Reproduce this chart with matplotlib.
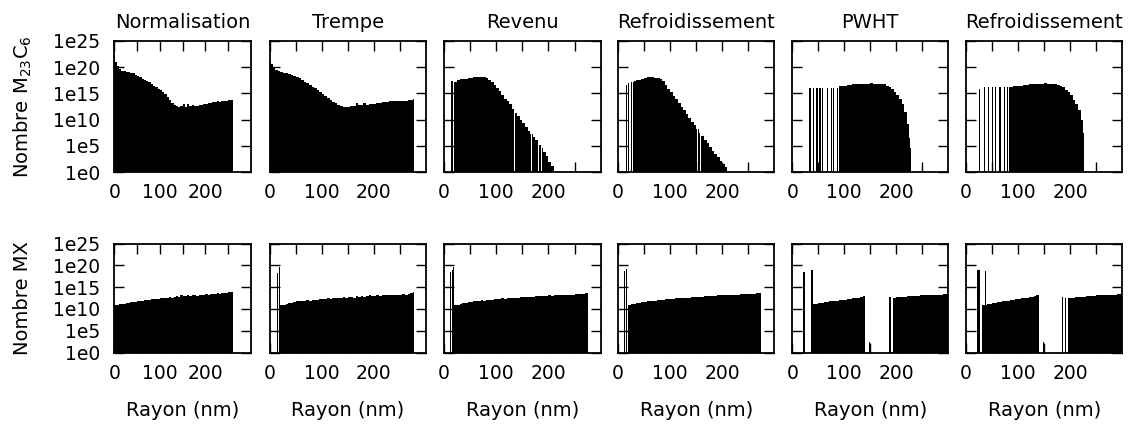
import numpy as np
import matplotlib
matplotlib.use('Agg')
import matplotlib.pyplot as plt
from matplotlib.ticker import FixedLocator, NullLocator

# -- data : log10(nombre) per 5 nm class, starting at radius r0 (nm)
#    spikes = thin 2 nm classes (radius, log10), gaps = empty 2 nm classes
titles = ['Normalisation', 'Trempe', 'Revenu', 'Refroidissement', 'PWHT', 'Refroidissement']
rayon_max = 300

# M23C6
m23_norm_r0 = 0
m23_norm = [21.0, 20.3, 19.6, 19.3, 19.2, 19.1, 19.0, 18.9, 18.8, 18.5,
            18.3, 18.1, 17.8, 17.6, 17.4, 17.1, 16.8, 16.5, 16.2, 15.9,
            15.6, 15.2, 14.8, 14.3, 13.8, 13.2, 12.8, 12.6, 12.5, 12.6,
            12.9, 12.5, 13.0, 12.6, 12.7, 12.6, 12.6, 12.7, 12.8, 13.0,
            13.0, 13.2, 13.1, 13.4, 13.3, 13.5, 13.3, 13.6, 13.5, 13.6,
            13.7, 13.8]
m23_norm_spikes = [(0, 22.6)]
m23_norm_gaps = []

m23_trempe_r0 = 0
m23_trempe = [20.6, 19.9, 19.5, 19.2, 19.0, 18.9, 18.8, 18.7, 18.6, 18.4,
              18.2, 17.9, 17.6, 17.2, 16.9, 16.6, 16.3, 16.0, 15.6, 15.2,
              14.9, 14.5, 14.1, 13.8, 13.4, 13.1, 12.7, 12.6, 12.5, 12.5,
              12.4, 12.6, 12.6, 13.2, 12.7, 12.8, 13.1, 12.8, 13.0, 12.9,
              13.0, 13.1, 13.2, 13.3, 13.4, 13.4, 13.5, 13.5, 13.5, 13.6,
              13.6, 13.6, 13.6, 13.7, 13.8]
m23_trempe_spikes = [(0, 21.0), (275, 14.0)]
m23_trempe_gaps = []

m23_revenu_r0 = 20
m23_revenu = [17.2, 17.5, 17.7, 17.7, 17.8, 17.9, 18.0, 18.1, 18.1, 18.2,
              18.2, 18.1, 17.9, 17.5, 17.1, 16.6, 16.0, 15.4, 14.7, 14.0,
              13.5, 12.9, 12.0, 11.3, 10.6, 9.9, 9.3, 8.6, 7.9, 7.3,
              6.7, 6.1, 5.1, 4.5, 3.9, 3.0, 1.9, 1.1]
m23_revenu_spikes = [(13, 17.4), (15, 17.4)]
m23_revenu_gaps = [134, 166, 180, 185]

m23_refroid_r0 = 20
m23_refroid = [17.0, 17.2, 17.4, 17.5, 17.6, 17.8, 18.0, 18.1, 18.1, 18.1,
               18.0, 17.9, 17.7, 17.4, 16.6, 15.9, 15.3, 14.5, 13.9, 13.2,
               12.5, 11.9, 11.1, 10.3, 9.6, 8.9, 8.3, 7.5, 6.8, 6.1,
               5.5, 4.8, 4.1, 3.4, 2.8, 2.1, 1.5, 1.0]
m23_refroid_spikes = [(16, 16.6)]
m23_refroid_gaps = [22, 27, 152, 157]

m23_pwht_r0 = 90
m23_pwht = [16.4, 16.5, 16.5, 16.6, 16.6, 16.7, 16.7, 16.7, 16.8, 16.8,
            16.8, 16.8, 16.9, 16.8, 16.8, 16.8, 16.8, 16.7, 16.4, 16.2,
            15.9, 15.3, 14.7, 13.9, 12.9, 11.5, 9.2]
m23_pwht_spikes = [(33, 16.0), (40, 16.0), (45, 16.0), (48, 16.0), (51, 16.0),
                   (54, 16.0), (57, 16.0), (66, 16.0), (74, 16.0), (79, 16.0),
                   (85, 16.0), (225, 6.5), (227, 4.5)]
m23_pwht_gaps = []

m23_refroid2_r0 = 85
m23_refroid2 = [16.3, 16.4, 16.4, 16.5, 16.5, 16.6, 16.6, 16.7, 16.7, 16.8,
                16.8, 16.8, 16.8, 16.9, 16.8, 16.8, 16.8, 16.7, 16.6, 16.4,
                16.2, 15.7, 15.2, 14.6, 13.8, 12.9, 11.8, 10.0]
m23_refroid2_spikes = [(25, 15.8), (35, 16.2), (43, 16.2), (49, 16.2), (56, 16.2),
                       (63, 16.2), (66, 16.2), (72, 16.2), (78, 16.2), (82, 16.2),
                       (225, 7.5)]
m23_refroid2_gaps = []

# MX
mx_norm_r0 = 0
mx_norm = [11.0, 11.0, 11.1, 11.1, 11.2, 11.4, 11.4, 11.5, 11.6, 11.6,
           11.7, 11.8, 11.8, 12.0, 12.0, 12.1, 12.2, 12.2, 12.3, 12.3,
           12.4, 12.6, 12.5, 12.6, 12.7, 12.6, 12.8, 12.9, 12.8, 13.2,
           12.9, 13.0, 13.3, 13.0, 13.1, 13.2, 13.0, 13.3, 13.2, 13.3,
           13.4, 13.3, 13.5, 13.4, 13.5, 13.6, 13.5, 13.6, 13.7, 13.6,
           13.8, 13.9]
mx_norm_spikes = []
mx_norm_gaps = []

mx_trempe_r0 = 20
mx_trempe = [10.9, 11.0, 11.1, 11.3, 11.4, 11.5, 11.7, 11.8, 11.9, 11.8,
             12.0, 11.9, 12.0, 12.1, 12.0, 12.2, 12.3, 12.2, 12.4, 12.3,
             12.4, 12.6, 12.5, 12.5, 12.7, 12.6, 12.7, 12.8, 12.6, 12.9,
             12.7, 13.0, 12.8, 12.9, 13.1, 12.9, 13.0, 13.1, 13.0, 13.1,
             13.2, 13.1, 13.2, 13.3, 13.2, 13.3, 13.3, 13.4, 13.3, 13.4, 13.6]
mx_trempe_spikes = [(13, 18.2), (18, 19.5), (275, 13.8)]
mx_trempe_gaps = []

mx_revenu_r0 = 20
mx_revenu = [10.9, 11.0, 11.2, 11.3, 11.4, 11.5, 11.6, 11.8, 11.8, 11.9,
             12.0, 11.9, 12.0, 12.1, 12.1, 12.2, 12.2, 12.3, 12.4, 12.3,
             12.4, 12.5, 12.5, 12.6, 12.6, 12.7, 12.7, 12.8, 12.7, 12.8,
             12.8, 12.9, 12.9, 13.0, 12.9, 13.0, 13.1, 13.0, 13.1, 13.1,
             13.2, 13.2, 13.2, 13.3, 13.3, 13.3, 13.4, 13.4, 13.4, 13.5, 13.6]
mx_revenu_spikes = [(11, 18.5), (15, 19.0), (18, 19.6)]
mx_revenu_gaps = []

mx_refroid_r0 = 20
mx_refroid = [11.0, 11.1, 11.2, 11.3, 11.4, 11.5, 11.6, 11.7, 11.8, 11.9,
              11.9, 12.0, 12.0, 12.1, 12.2, 12.2, 12.3, 12.3, 12.4, 12.4,
              12.5, 12.5, 12.6, 12.6, 12.7, 12.7, 12.8, 12.8, 12.8, 12.9,
              12.9, 13.0, 13.0, 13.0, 13.1, 13.1, 13.1, 13.2, 13.2, 13.2,
              13.3, 13.3, 13.3, 13.4, 13.4, 13.4, 13.5, 13.5, 13.5, 13.6, 13.6]
mx_refroid_spikes = [(12, 18.8), (16, 19.2)]
mx_refroid_gaps = []

mx_pwht_r0 = 40
mx_pwht = [11.1, 11.2, 11.3, 11.4, 11.5, 11.6, 11.7, 11.8, 11.9, 11.9,
           12.0, 12.1, 12.1, 12.2, 12.3, 12.4, 12.5, 12.6, 12.7, 12.9,
           0, 0, 0, 0, 0, 0, 0, 0, 0, 0, 0,
           12.6, 12.7, 12.7, 12.8, 12.8, 12.9, 12.9, 13.0, 13.0, 13.0,
           13.1, 13.1, 13.1, 13.2, 13.2, 13.2, 13.3, 13.3, 13.3, 13.4, 13.4]
mx_pwht_spikes = [(21, 18.5), (23, 18.5), (36, 18.9), (38, 18.9),
                  (148, 2.5), (185, 12.7), (187, 12.7), (193, 12.5)]
mx_pwht_gaps = []

mx_refroid2_r0 = 30
mx_refroid2 = [10.9, 11.0, 11.1, 11.2, 11.3, 11.4, 11.5, 11.6, 11.7, 11.8,
               11.9, 12.0, 12.1, 12.2, 12.3, 12.4, 12.5, 12.6, 12.7, 12.8,
               13.0, 13.2,
               0, 0, 0, 0, 0, 0, 0, 0, 0, 0, 0,
               12.5, 12.6, 12.6, 12.7, 12.7, 12.8, 12.8, 12.9, 12.9, 13.0,
               13.0, 13.1, 13.1, 13.1, 13.2, 13.2, 13.2, 13.3, 13.3, 13.4, 13.4]
mx_refroid2_spikes = [(22, 18.9), (24, 18.9), (36, 18.8),
                      (148, 2.5), (184, 12.7), (190, 12.5)]
mx_refroid2_gaps = []

rows = [
    [(m23_norm_r0, m23_norm, m23_norm_spikes, m23_norm_gaps),
     (m23_trempe_r0, m23_trempe, m23_trempe_spikes, m23_trempe_gaps),
     (m23_revenu_r0, m23_revenu, m23_revenu_spikes, m23_revenu_gaps),
     (m23_refroid_r0, m23_refroid, m23_refroid_spikes, m23_refroid_gaps),
     (m23_pwht_r0, m23_pwht, m23_pwht_spikes, m23_pwht_gaps),
     (m23_refroid2_r0, m23_refroid2, m23_refroid2_spikes, m23_refroid2_gaps)],
    [(mx_norm_r0, mx_norm, mx_norm_spikes, mx_norm_gaps),
     (mx_trempe_r0, mx_trempe, mx_trempe_spikes, mx_trempe_gaps),
     (mx_revenu_r0, mx_revenu, mx_revenu_spikes, mx_revenu_gaps),
     (mx_refroid_r0, mx_refroid, mx_refroid_spikes, mx_refroid_gaps),
     (mx_pwht_r0, mx_pwht, mx_pwht_spikes, mx_pwht_gaps),
     (mx_refroid2_r0, mx_refroid2, mx_refroid2_spikes, mx_refroid2_gaps)],
]
ylabels = ['Nombre M$_{23}$C$_6$', 'Nombre MX']


def histo(r0, logs, spikes, gaps):
    # 1 nm classes, empty class = 1e0 (baseline)
    y = np.zeros(rayon_max)
    for k, v in enumerate(logs):
        y[r0 + 5 * k: r0 + 5 * k + 5] = v
    for r, v in spikes:
        y[r:r + 2] = v
    for r in gaps:
        y[r:r + 2] = 0
    return 10.0 ** y


plt.rcParams['font.family'] = 'DejaVu Sans'
W, H = 1137, 426
fig = plt.figure(figsize=(W / 100, H / 100), dpi=100)

lefts = [114.3, 270, 444, 618, 792.3, 966]
widths = [136.7, 155.7, 156.7, 156.3, 156, 156.3]
tops = [41, 243.5]
heights = [131, 109]
edges = np.arange(rayon_max + 1)

for i, row in enumerate(rows):
    for j, (r0, logs, spikes, gaps) in enumerate(row):
        ax = fig.add_axes([lefts[j] / W, 1 - (tops[i] + heights[i]) / H,
                           widths[j] / W, heights[i] / H])
        ax.stairs(histo(r0, logs, spikes, gaps), edges, baseline=1, fill=True,
                  color='black', lw=0)
        ax.set_yscale('log')
        ax.set_ylim(1, 1e25)
        ax.set_xlim(0, rayon_max)
        ax.set_yticks([10.0 ** k for k in range(0, 26, 5)])
        ax.yaxis.set_minor_locator(NullLocator())
        ax.set_xticks([0, 100, 200])
        ax.xaxis.set_minor_locator(FixedLocator([50, 150, 250]))
        ax.tick_params(which='both', direction='in', top=True, right=True,
                       length=7, width=1, labelsize=13.5)
        ax.tick_params(axis='x', pad=8)
        ax.tick_params(axis='y', pad=10)
        if j == 0:
            ax.set_yticklabels(['1e%d' % k for k in range(0, 26, 5)])
        else:
            ax.set_yticklabels([])
        for s in ax.spines.values():
            s.set_linewidth(1.3)
        if i == 0:
            ax.set_title(titles[j], fontsize=14, pad=9)
        else:
            ax.set_xlabel('Rayon (nm)', fontsize=14, labelpad=13)
    fig.text(23 / W, 1 - (tops[i] + heights[i] / 2) / H, ylabels[i],
             rotation=90, ha='center', va='center', fontsize=14)

fig.savefig('out.png', dpi=100)
